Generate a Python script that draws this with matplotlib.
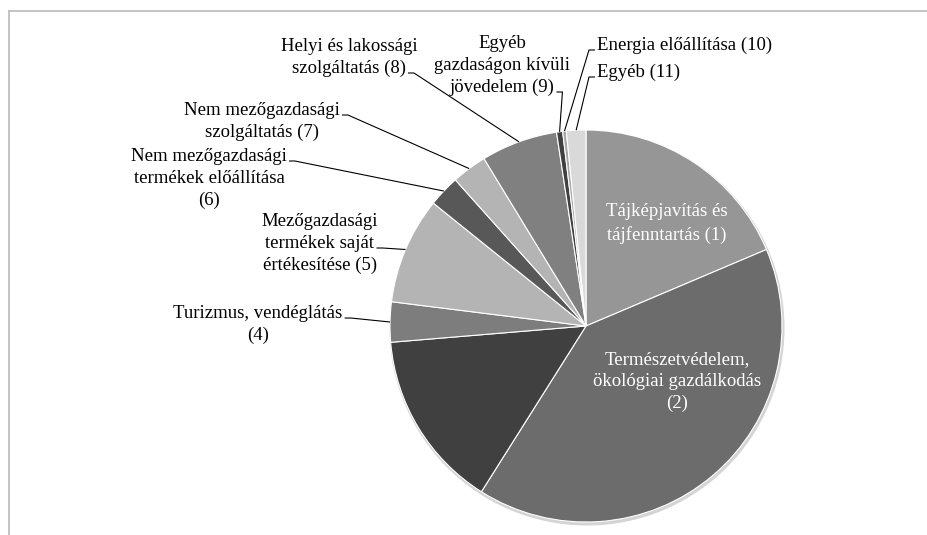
import matplotlib
matplotlib.use('Agg')
import matplotlib.pyplot as plt
from matplotlib.lines import Line2D
from matplotlib.patches import Circle
import numpy as np

plt.rcParams['font.family'] = ['Liberation Serif', 'DejaVu Serif']

# share of each activity (%), clockwise from 12 o'clock
labels = ['Tájképjavítás és\ntájfenntartás (1)',
          'Természetvédelem,\nökológiai gazdálkodás\n(2)',
          '',
          'Turizmus, vendéglátás\n(4)',
          'Mezőgazdasági\ntermékek saját\nértékesítése (5)',
          'Nem mezőgazdasági\ntermékek előállítása\n(6)',
          'Nem mezőgazdasági\nszolgáltatás (7)',
          'Helyi és lakossági\nszolgáltatás (8)',
          'Egyéb\ngazdaságon kívüli\njövedelem (9)',
          'Energia előállítása (10)',
          'Egyéb (11)']
values = [18.6, 40.3, 14.7, 3.3, 8.8, 2.6, 2.9, 6.3, 0.5, 0.3, 1.6]
colors = ['#969696', '#6c6c6c', '#404040', '#7d7d7d', '#b4b4b4', '#585858',
          '#b4b4b4', '#808080', '#404040', '#a6a6a6', '#d9d9d9']

W, H = 928, 535


def py(y):
    # pixel row (from top) -> axes y
    return H - y


fig = plt.figure(figsize=(9.28, 5.35), dpi=100)
ax = fig.add_axes([0, 0, 1, 1])

cx, cy, r = 586, py(326), 196
# soft shadow under the pie
ax.add_patch(Circle((cx + 1, cy - 2), r + 1.5, color='#d4d4d4', zorder=0, linewidth=0))
wedges, _ = ax.pie(values, colors=colors, startangle=90, counterclock=False,
                   center=(cx, cy), radius=r, frame=True,
                   wedgeprops=dict(edgecolor='white', linewidth=0.8))
ax.set_xlim(0, W)
ax.set_ylim(0, H)
ax.set_aspect('equal')
ax.axis('off')

fs = 13.5


def block(text, x, y, spacing, ha='center', color='black'):
    """draw a multi-line label line by line, y is the block centre (px from top)"""
    lines = text.split('\n')
    n = len(lines)
    arts = []
    for k, line in enumerate(lines):
        yy = y + (k - (n - 1) / 2) * spacing
        arts.append(ax.text(x, py(yy), line, ha=ha, va='center',
                            fontsize=fs, color=color))
    return arts


# labels inside the two big slices
block(labels[0], 667, 223.5, 23.5, color='white')
block(labels[1], 677, 381.5, 21.7, color='white')

# outside labels: (index, x, y, ha, line the leader attaches to)
outside = [
    (3, 258, 324, 'center', 0),
    (4, 320, 243, 'center', 1),
    (5, 209, 178, 'center', 0),
    (6, 262, 121, 'center', 0),
    (7, 349, 57, 'center', 1),
    (8, 502, 65, 'center', 2),
    (9, 597, 45, 'left', 0),
    (10, 597, 72, 'left', 0),
]
renderer = fig.canvas.get_renderer()
for i, tx, ty, ha, k in outside:
    arts = block(labels[i], tx, ty, 22, ha=ha)
    bb = arts[k].get_window_extent(renderer)
    w = wedges[i]
    mid = np.deg2rad((w.theta1 + w.theta2) / 2)
    ex, ey = cx + r * np.cos(mid), cy + r * np.sin(mid)
    if ha == 'left':
        axx, stub = bb.x0 - 2, -6
    else:
        axx, stub = bb.x1 + 2, 6
    ayy = (bb.y0 + bb.y1) / 2 - 5
    ax.plot([ex, axx + stub, axx], [ey, ayy, ayy], color='black',
            linewidth=0.8, solid_capstyle='butt')

# chart area border (top and left only visible)
bc = '#bfbfbf'
fig.add_artist(Line2D([9 / W, 1], [1 - 11 / H, 1 - 11 / H], color=bc, linewidth=1.3))
fig.add_artist(Line2D([9 / W, 9 / W], [0, 1 - 11 / H], color=bc, linewidth=1.3))

fig.savefig('out.png', dpi=100, facecolor='white')
